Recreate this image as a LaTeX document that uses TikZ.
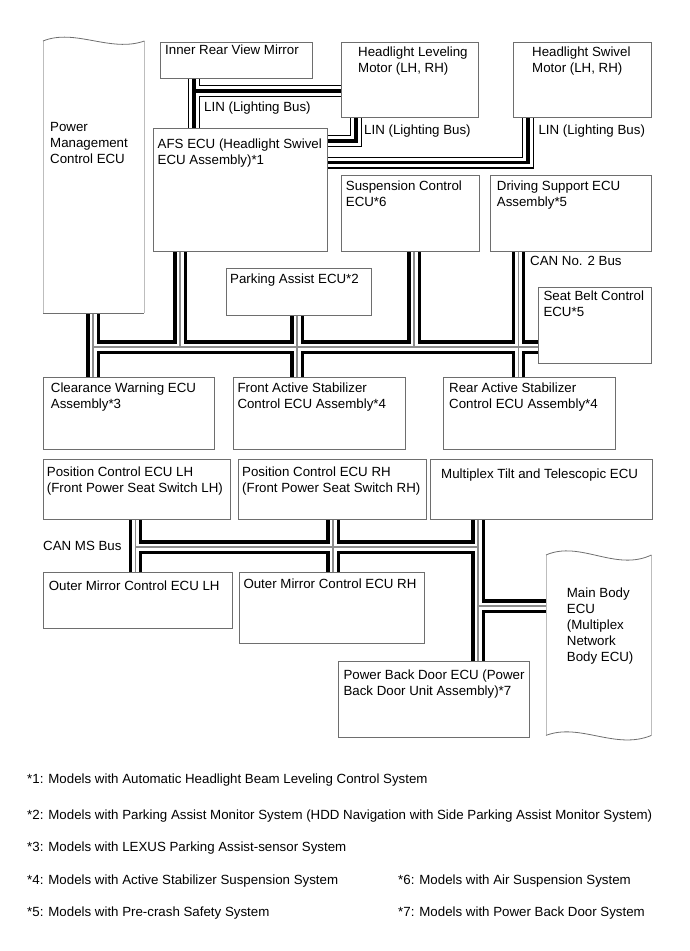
\documentclass[tikz,border=0pt]{standalone}
\usepackage{fontspec}
\setmainfont{Liberation Sans}
\usetikzlibrary{calc}
\pgfdeclarelayer{bus}
\pgfsetlayers{bus,main}
\definecolor{bd}{HTML}{6E6E6E}
\definecolor{lt}{HTML}{BDBDBD}
\definecolor{cg}{HTML}{8C8C8C}
\newcommand\bx[5]{\node[box,minimum width=#4pt,minimum height=#5pt] (#1) at (#2,#3) {};}
\begin{document}
\begin{tikzpicture}[x=1pt,y=-1pt,
  box/.style={draw=bd,fill=white,line width=0.9pt,inner sep=0pt,anchor=north west},
  area/.style={draw=none,inner sep=0pt,anchor=north west},
  txt/.style={anchor=base west,inner sep=0pt,font=\fontsize{13.3}{16}\selectfont},
  canA/.style={line width=13.5pt,black,line join=miter},
  canB/.style={line width=7pt,white,line join=miter},
  canC/.style={line width=1.4pt,cg,line join=miter},
  linA/.style={line width=12pt,black,line join=miter},
  linB/.style={line width=9.4pt,white,line join=miter},
  linC/.style={line width=3.6pt,black,line join=miter}]
\useasboundingbox (0,0) rectangle (689,951);

% boxes
\bx{mirror}{160}{42}{152}{36}
\bx{hl}{341}{42}{137}{75}
\bx{hs}{513}{42}{138}{75}
\bx{afs}{153}{128}{174}{123}
\bx{susp}{341}{175}{138}{76}
\bx{drv}{490}{175}{161}{76}
\bx{park}{226}{268}{145}{47}
\bx{seat}{538}{287}{113}{76}
\bx{clw}{43}{377}{171}{72}
\bx{fas}{233}{377}{172}{72}
\bx{ras}{443}{377}{172}{72}
\bx{posL}{43}{459}{187}{60}
\bx{posR}{238}{459}{188}{60}
\bx{mtt}{430}{459}{222}{60}
\bx{omL}{43}{572}{189}{56}
\bx{omR}{239}{572}{185}{71}
\bx{pbd}{338}{661}{191}{76}
\node[area,minimum width=101pt,minimum height=272pt] (pmc) at (43,41) {};
\node[area,minimum width=105pt,minimum height=180pt] (mbe) at (546,555) {};

% wavy outlines
\draw[lt,line width=0.9pt] (pmc.north west) -- (pmc.south west);
\draw[lt,line width=0.9pt] (pmc.north east) -- (pmc.south east);
\draw[bd,line width=0.8pt] (pmc.south west) -- (pmc.south east);
\draw[bd,line width=0.8pt] (pmc.north west) .. controls +(32,-13) and +(-34,12) .. (pmc.north east);
\draw[lt,line width=0.9pt] (mbe.north west) -- (mbe.south west);
\draw[lt,line width=0.9pt] (mbe.north east) -- (mbe.south east);
\draw[bd,line width=0.8pt] (mbe.north west) .. controls +(34,-15) and +(-36,17) .. (mbe.north east);
\draw[bd,line width=0.8pt] (mbe.south west) .. controls +(34,-13) and +(-36,15) .. (mbe.south east);

% junction coordinates
\coordinate (jA) at (93,347);
\coordinate (jB) at (180,347);
\coordinate (jC) at (297,347);
\coordinate (jD) at (414,347);
\coordinate (jE) at (518.5,347);
\coordinate (kA) at (135.5,547);
\coordinate (kB) at (333,547);
\coordinate (kC) at (478,547);
\coordinate (kD) at (478,606);
\coordinate (mA) at (194,91);
\coordinate (mB) at (356,141);
\coordinate (mC) at (528,162.5);

\def\canpaths{
  (pmc.south -| jA) -- (clw.north -| jA)
  (jA) -- (seat.west |- jA)
  (afs.south -| jB) -- (jB)
  (park.south -| jC) -- (fas.north -| jC)
  (susp.south -| jD) -- (jD)
  (drv.south -| jE) -- (ras.north -| jE)
  (posL.south -| kA) -- (omL.north -| kA)
  (kA) -- (kC)
  (posR.south -| kB) -- (omR.north -| kB)
  (mtt.south -| kC) -- (pbd.north -| kC)
  (kD) -- (mbe.west |- kD)}
\def\linpaths{
  (mirror.south -| mA) -- (afs.north -| mA)
  (mA) -- (hl.west |- mA)
  (hl.south -| mB) -- (mB) -- (afs.east |- mB)
  (hs.south -| mC) -- (mC) -- (afs.east |- mC)}

\begin{pgfonlayer}{bus}
\draw[canA] \canpaths;
\draw[canB] \canpaths;
\draw[canC] \canpaths;
\draw[linA] \linpaths;
\draw[linB] \linpaths;
\draw[linC] \linpaths;
\end{pgfonlayer}

% texts
\node[txt] (tmirror) at (165,54.5) {Inner Rear View Mirror};
\node[txt] (thl) at (358,56) {\vtop{\hbox{Headlight Leveling}\hbox{Motor (LH, RH)}}};
\node[txt] (ths) at (532,56) {\vtop{\hbox{Headlight Swivel}\hbox{Motor (LH, RH)}}};
\node[txt] (tpmc) at (50,131.7) {\vtop{\hbox{Power}\hbox{Management}\hbox{Control ECU}}};
\node[txt] (tafs) at (157.5,148.3) {\vtop{\hbox{AFS ECU (Headlight Swivel}\hbox{ECU Assembly)*1}}};
\node[txt] (tsusp) at (345.7,190) {\vtop{\hbox{Suspension Control}\hbox{ECU*6}}};
\node[txt] (tdrv) at (496.7,190) {\vtop{\hbox{Driving Support ECU}\hbox{Assembly*5}}};
\node[txt] (tpark) at (230,283.3) {Parking Assist ECU*2};
\node[txt] (tseat) at (543.3,300) {\vtop{\hbox{Seat Belt Control}\hbox{ECU*5}}};
\node[txt] (tcan2) at (530,265.7) {CAN No. 2 Bus};
\node[txt] (tclw) at (50.7,392.7) {\vtop{\hbox{Clearance Warning ECU}\hbox{Assembly*3}}};
\node[txt] (tfas) at (237.3,392.7) {\vtop{\hbox{Front Active Stabilizer}\hbox{Control ECU Assembly*4}}};
\node[txt] (tras) at (449,392.7) {\vtop{\hbox{Rear Active Stabilizer}\hbox{Control ECU Assembly*4}}};
\node[txt] (tposL) at (46.7,476) {\vtop{\hbox{Position Control ECU LH}\hbox{(Front Power Seat Switch LH)}}};
\node[txt] (tposR) at (242,476) {\vtop{\hbox{Position Control ECU RH}\hbox{(Front Power Seat Switch RH)}}};
\node[txt] (tmtt) at (441,478) {Multiplex Tilt and Telescopic ECU};
\node[txt] (tcanms) at (43,550.7) {CAN MS Bus};
\node[txt] (tomL) at (48.7,590) {Outer Mirror Control ECU LH};
\node[txt] (tomR) at (243.3,588) {Outer Mirror Control ECU RH};
\node[txt] (tpbd) at (343.3,679) {\vtop{\hbox{Power Back Door ECU (Power}\hbox{Back Door Unit Assembly)*7}}};
\node[txt] (tmbe) at (566.7,597) {\vtop{\hbox{Main Body}\hbox{ECU}\hbox{(Multiplex}\hbox{Network}\hbox{Body ECU)}}};
\node[txt] (tlin1) at (204,111.7) {LIN (Lighting Bus)};
\node[txt] (tlin2) at (364,134) {LIN (Lighting Bus)};
\node[txt] (tlin3) at (538.3,134) {LIN (Lighting Bus)};

% footnotes
\node[txt] (f1) at (27,783) {*1: Models with Automatic Headlight Beam Leveling Control System};
\node[txt] (f2) at (27,819) {*2: Models with Parking Assist Monitor System (HDD Navigation with Side Parking Assist Monitor System)};
\node[txt] (f3) at (27,851) {*3: Models with LEXUS Parking Assist-sensor System};
\node[txt] (f4) at (27,884) {*4: Models with Active Stabilizer Suspension System};
\node[txt] (f6) at (398,884) {*6: Models with Air Suspension System};
\node[txt] (f5) at (27,916) {*5: Models with Pre-crash Safety System};
\node[txt] (f7) at (398,916) {*7: Models with Power Back Door System};
\end{tikzpicture}
\end{document}
